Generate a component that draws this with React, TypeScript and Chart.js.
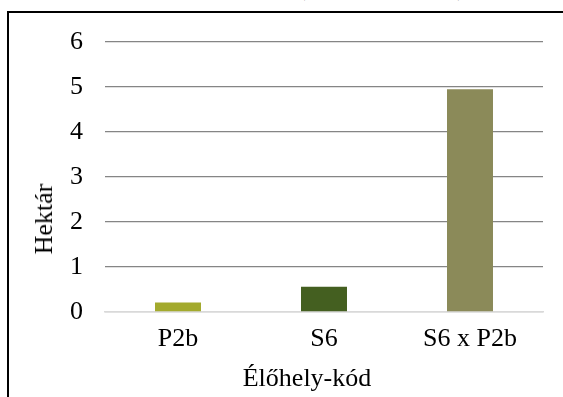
import React, { useEffect, useRef } from "react";
import { Chart, registerables } from "chart.js";

Chart.register(...registerables);

const categories = ["P2b", "S6", "S6 x P2b"];
const values = [0.21, 0.56, 4.95];
const barColors = ["#a3aa2d", "#445f20", "#8b8a59"];
const yTicks = [0, 1, 2, 3, 4, 5, 6];
const yTitle = "Hektár";
const xTitle = "Élőhely-kód";
const chartTitle = "Élőhelyek kiterjedése (ha, Nagyberek)";

const FONT = "'Liberation Serif', 'Times New Roman', serif";
const FS = 26;

export default function App() {
  const canvasRef = useRef<HTMLCanvasElement | null>(null);

  useEffect(() => {
    const canvas = canvasRef.current;
    if (!canvas) return;
    const chart = new Chart(canvas, {
      type: "bar",
      data: {
        labels: categories,
        datasets: [
          {
            data: values,
            backgroundColor: barColors,
            borderWidth: 0,
            categoryPercentage: 1,
            barPercentage: 0.315,
          },
        ],
      },
      options: {
        animation: false,
        responsive: false,
        maintainAspectRatio: false,
        layout: { padding: { top: 42, right: 20, left: 0, bottom: 0 } },
        plugins: {
          legend: { display: false },
          tooltip: { enabled: false },
          title: { display: false },
        },
        scales: {
          x: {
            grid: { display: false, drawTicks: false },
            border: { display: true, color: "#d9d9d9", width: 1.5 },
            ticks: {
              padding: 12,
              color: "#000",
              font: { family: FONT, size: FS },
            },
            afterFit: (scale: any) => {
              scale.height = 397 - 312;
            },
          },
          y: {
            min: 0,
            max: 6,
            afterBuildTicks: (scale: any) => {
              scale.ticks = yTicks.map((v) => ({ value: v }));
            },
            grid: {
              drawTicks: false,
              color: (ctx: any) => (ctx.tick && ctx.tick.value === 0 ? "#d9d9d9" : "#858585"),
              lineWidth: (ctx: any) => (ctx.tick && ctx.tick.value === 0 ? 1.5 : 1.2),
            },
            border: { display: false },
            ticks: {
              padding: 22,
              color: "#000",
              font: { family: FONT, size: FS },
            },
            afterFit: (scale: any) => {
              scale.width = 105;
            },
          },
        },
      },
    });
    return () => chart.destroy();
  }, []);

  return (
    <div
      style={{
        position: "fixed",
        left: 0,
        top: 0,
        width: 563,
        height: 397,
        overflow: "hidden",
        background: "#fff",
        fontFamily: FONT,
      }}
    >
      <div
        style={{
          position: "absolute",
          right: 97,
          top: -26,
          fontSize: FS,
          lineHeight: `${FS}px`,
          whiteSpace: "nowrap",
          color: "#000",
        }}
      >
        {chartTitle}
      </div>
      <div
        style={{
          position: "absolute",
          left: 7,
          top: 11,
          width: 600,
          height: 500,
          border: "2px solid #000",
          boxSizing: "border-box",
        }}
      />
      <canvas
        ref={canvasRef}
        width={563}
        height={397}
        style={{ position: "absolute", left: 0, top: 0, width: 563, height: 397 }}
      />
      <div
        style={{
          position: "absolute",
          left: 44,
          top: 219,
          transform: "translate(-50%, -50%) rotate(-90deg)",
          fontSize: FS,
          lineHeight: `${FS}px`,
          whiteSpace: "nowrap",
          color: "#000",
        }}
      >
        {yTitle}
      </div>
      <div
        style={{
          position: "absolute",
          left: 307,
          top: 378,
          transform: "translate(-50%, -50%)",
          fontSize: FS,
          lineHeight: `${FS}px`,
          whiteSpace: "nowrap",
          color: "#000",
        }}
      >
        {xTitle}
      </div>
    </div>
  );
}
